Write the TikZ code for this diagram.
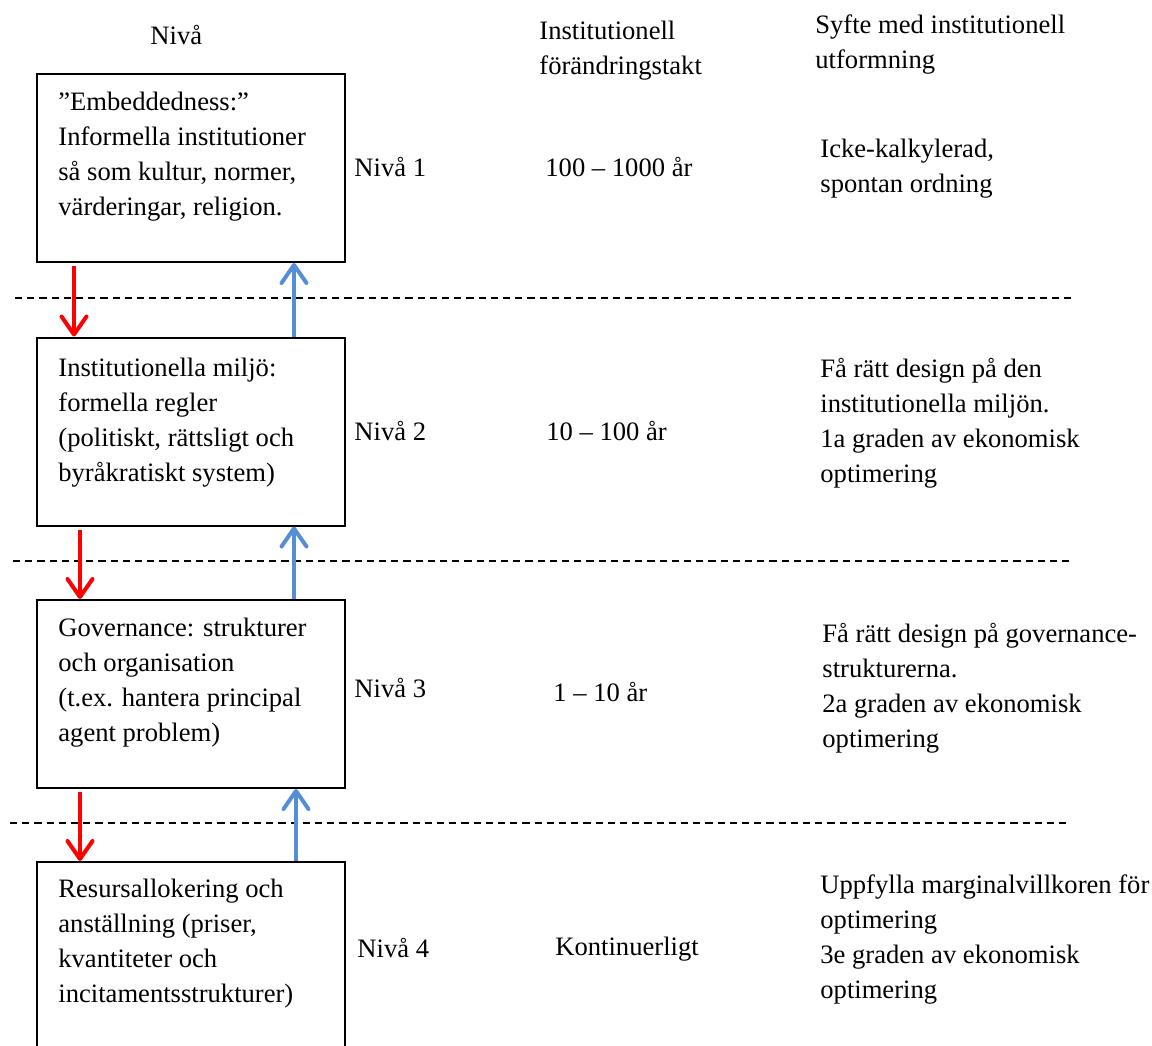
\documentclass[tikz,border=0pt]{standalone}
\usepackage{fontspec}
\setmainfont{Liberation Serif}
\usepackage{xcolor}
\definecolor{levelRed}{HTML}{FF0000}
\definecolor{levelBlue}{HTML}{558ED5}
\usetikzlibrary{arrows.meta,positioning}

\begin{document}
\begin{tikzpicture}[
  x=0.5pt, y=-0.5pt,
  font=\fontsize{13.3}{17.5}\selectfont,
  levelbox/.style={draw=black, line width=1pt, minimum width=154pt, minimum height=94pt, inner sep=0pt},
  label/.style={anchor=base west, align=left, inner sep=0pt},
  divider/.style={line width=1pt, dash pattern=on 3.6pt off 2.5pt},
  downflow/.style={-{Straight Barb[round, length=9pt, width=12.5pt]}, levelRed, line width=2pt, shorten <=1.5pt},
  upflow/.style={-{Straight Barb[round, length=9pt, width=12.5pt]}, levelBlue, line width=2pt}
]
\useasboundingbox (0,0) rectangle (1152,1045);
\clip (0,0) rectangle (1152,1045);

% Column headings (positions give the baseline of the last line)
\node[label] (headLevel) at (150,44) {Nivå};
\node[label] (headRate) at (539,74) {Institutionell\\förändringstakt};
\node[label] (headAim) at (815,68) {Syfte med institutionell\\utformning};

% Level boxes
\node[levelbox] (box1) at (191,168) {};
\node[levelbox] (box2) at (191,431.5) {};
\node[levelbox] (box3) at (191,694) {};
\node[levelbox] (box4) at (191,956) {};

\node[label] (text1) at (58,215) {”Embeddedness:”\\Informella institutioner\\så som kultur, normer,\\värderingar, religion.};
\node[label] (text2) at (58,481) {Institutionella miljö:\\formella regler\\(politiskt, rättsligt och\\byråkratiskt system)};
\node[label] (text3) at (58,741) {Governance: strukturer\\och organisation\\(t.ex. hantera principal\\agent problem)};
\node[label] (text4) at (58,1002) {Resursallokering och\\anställning (priser,\\kvantiteter och\\incitamentsstrukturer)};

% Level names
\node[label] (level1) at (354,176) {Nivå 1};
\node[label] (level2) at (354,440) {Nivå 2};
\node[label] (level3) at (354,697) {Nivå 3};
\node[label] (level4) at (357,957) {Nivå 4};

% Rate of change
\node[label] (rate1) at (545,176) {100 – 1000 år};
\node[label] (rate2) at (546,440) {10 – 100 år};
\node[label] (rate3) at (553,701) {1 – 10 år};
\node[label] (rate4) at (555,955) {Kontinuerligt};

% Aim of design
\node[label] (aim1) at (820,192) {Icke-kalkylerad,\\spontan ordning};
\node[label] (aim2) at (820,482) {Få rätt design på den\\institutionella miljön.\\1a graden av ekonomisk\\optimering};
\node[label] (aim3) at (822,747) {Få rätt design på governance-\\strukturerna.\\2a graden av ekonomisk\\optimering};
\node[label] (aim4) at (820,998) {Uppfylla marginalvillkoren för\\optimering\\3e graden av ekonomisk\\optimering};

% Dividers
\coordinate (cut1a) at (15,298);  \coordinate (cut1b) at (1072,298);
\coordinate (cut2a) at (13,561);  \coordinate (cut2b) at (1070,561);
\coordinate (cut3a) at (10,823);  \coordinate (cut3b) at (1068,823);
\draw[divider] (cut1a) -- (cut1b);
\draw[divider] (cut2a) -- (cut2b);
\draw[divider] (cut3a) -- (cut3b);

% Downward and upward influence
\draw[downflow] ([xshift=19pt]box1.south west) -- ([xshift=19pt]box2.north west);
\draw[upflow] ([xshift=-26pt]box2.north east) -- ([xshift=-26pt]box1.south east);
\draw[downflow] ([xshift=22pt]box2.south west) -- ([xshift=22pt]box3.north west);
\draw[upflow] ([xshift=-26pt]box3.north east) -- ([xshift=-26pt]box2.south east);
\draw[downflow] ([xshift=22pt]box3.south west) -- ([xshift=22pt]box4.north west);
\draw[upflow] ([xshift=-25pt]box4.north east) -- ([xshift=-25pt]box3.south east);

\end{tikzpicture}
\end{document}
